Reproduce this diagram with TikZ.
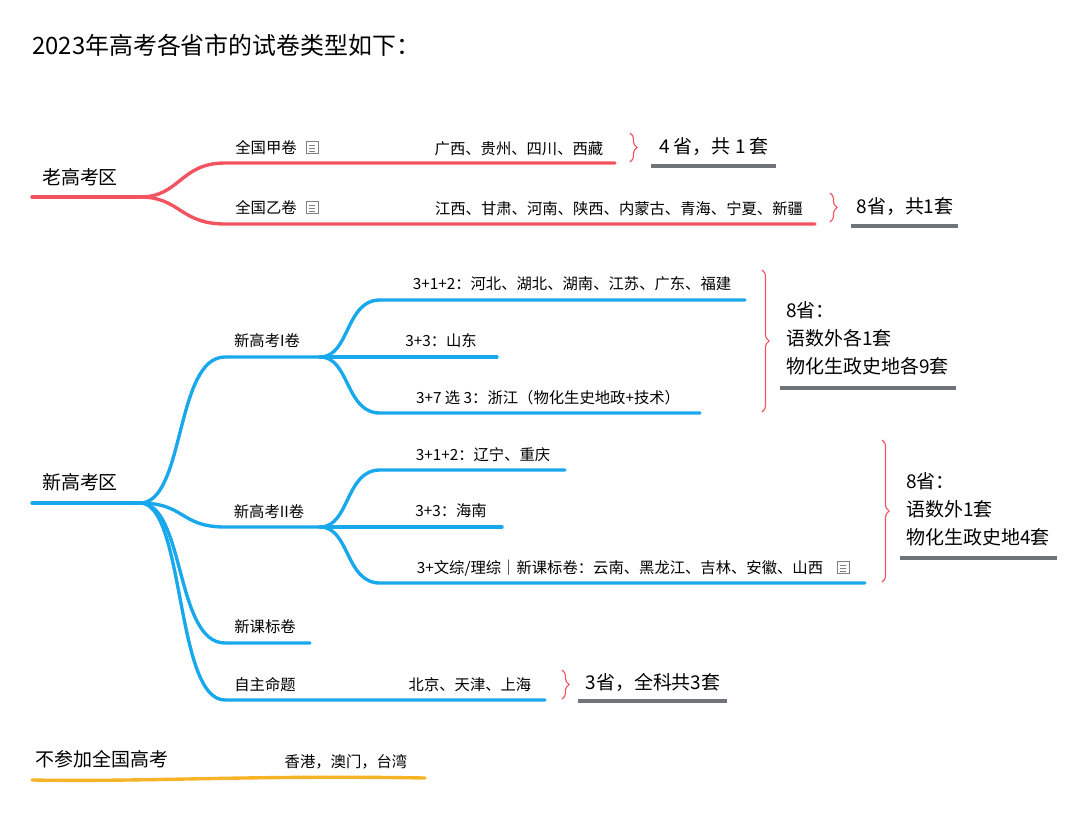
\documentclass[tikz,border=0pt]{standalone}
\usepackage{fontspec}
\setmainfont{Noto Sans CJK SC}
\usetikzlibrary{decorations.pathreplacing}
\definecolor{oldred}{HTML}{F2545F}
\definecolor{newblue}{HTML}{1AA8EC}
\definecolor{otherorange}{HTML}{F5B325}
\definecolor{sumgray}{HTML}{6E7479}
\tikzset{
  small/.style={font=\fontsize{10.9}{12}\selectfont, inner sep=0pt},
  big/.style={font=\fontsize{13.5}{16}\selectfont, inner sep=0pt},
  oldline/.style={oldred, line width=2.4pt, line cap=round},
  newline/.style={newblue, line width=2.4pt, line cap=round},
  sumline/.style={sumgray, line width=2.4pt},
  bracecurl/.style={oldred, thick, decorate, decoration={brace, amplitude=5pt}},
}
\newcommand{\noteicon}[1]{%
  \draw[gray, line width=0.5pt] (#1) ++(-6,-6) rectangle ++(12,12);
  \foreach \dy in {-2,1,4} \draw[gray, line width=0.4pt] (#1) ++(-3,\dy) -- ++(6,0);}
\begin{document}
\begin{tikzpicture}[x=0.025cm, y=-0.025cm]
\useasboundingbox (0,0) rectangle (1085,814);

\node (title) at (32,45) [anchor=west, inner sep=0pt, font=\fontsize{17}{19}\selectfont] {2023年高考各省市的试卷类型如下：};

% old region
\coordinate (oldroot) at (140,197);
\draw[oldline] (32,197) -- (oldroot);
\node (old) at (80,177) [big] {老高考区};
\draw[oldline] (oldroot) .. controls (180,197) and (180,163) .. (225,163) -- (615,163);
\draw[oldline] (oldroot) .. controls (180,197) and (180,224) .. (225,224) -- (815,224);
\node (jia) at (266,148) [small] {全国甲卷};
\noteicon{312,147}
\node (jialist) at (519,149) [small] {广西、贵州、四川、西藏};
\node (yi) at (266,208) [small] {全国乙卷};
\noteicon{312,207}
\node (yilist) at (619,209) [small] {江西、甘肃、河南、陕西、内蒙古、青海、宁夏、新疆};
\draw[bracecurl] (630,133) -- (630,162);
\node (jiasum) at (714,147) [big] {4 省，共 1 套};
\draw[sumline] (651,166) -- (776,166);
\draw[bracecurl] (830,193) -- (830,222);
\node (yisum) at (905,207) [big] {8省，共1套};
\draw[sumline] (851,226) -- (958,226);

% new region
\coordinate (newroot) at (140,503);
\draw[newline] (32,503) -- (newroot);
\node (new) at (80,482) [big] {新高考区};
\coordinate (one) at (320,357);
\coordinate (two) at (320,527);
\draw[newline] (newroot) .. controls (185,503) and (175,357) .. (225,357) -- (one);
\draw[newline] (newroot) .. controls (185,503) and (180,527) .. (225,527) -- (two);
\draw[newline] (newroot) .. controls (185,503) and (175,643) .. (225,643) -- (310,643);
\draw[newline] (newroot) .. controls (185,503) and (175,700) .. (225,700) -- (545,700);
\node (onelab) at (267,341) [small] {新高考I卷};
\node (twolab) at (269,512) [small] {新高考II卷};
\node (kebiao) at (265,627) [small] {新课标卷};
\node (zizhu) at (265,685) [small] {自主命题};
\node (zizhulist) at (470,685) [small] {北京、天津、上海};

\draw[newline] (one) .. controls (350,357) and (345,300) .. (380,300) -- (745,300);
\draw[newline] (one) -- (497,357);
\draw[newline] (one) .. controls (350,357) and (345,413) .. (380,413) -- (700,413);
\node (heb) at (572,284) [small] {3+1+2：河北、湖北、湖南、江苏、广东、福建};
\node (sd) at (441,341) [small] {3+3：山东};
\node (zj) at (548,398) [small] {3+7 选 3：浙江（物化生史地政+技术）};

\draw[newline] (two) .. controls (350,527) and (345,470) .. (380,470) -- (565,470);
\draw[newline] (two) -- (502,527);
\draw[newline] (two) .. controls (350,527) and (345,583) .. (380,583) -- (865,583);
\node (ln) at (483,455) [small] {3+1+2：辽宁、重庆};
\node (hn) at (451,511) [small] {3+3：海南};
\node (yn) at (620,568) [small] {3+文综/理综｜新课标卷：云南、黑龙江、吉林、安徽、山西};
\noteicon{843,567}

\draw[bracecurl] (762,270) -- (762,412);
\node (onesum) at (786,338) [big, anchor=west, align=left] {8省：\\[4pt]语数外各1套\\[4pt]物化生政史地各9套};
\draw[sumline] (780,388) -- (956,388);
\draw[bracecurl] (882,440) -- (882,582);
\node (twosum) at (906,509) [big, anchor=west, align=left] {8省：\\[4pt]语数外1套\\[4pt]物化生政史地4套};
\draw[sumline] (900,558) -- (1057,558);
\draw[bracecurl] (562,670) -- (562,699);
\node (zizhusum) at (653,682) [big] {3省，全科共3套};
\draw[sumline] (578,701) -- (727,701);

% outside
\node (none) at (102,759) [big] {不参加全国高考};
\draw[otherorange, line width=2.4pt, line cap=round] (32,780) .. controls (150,782) and (250,775) .. (425,778);
\node (hk) at (346,762) [small] {香港，澳门，台湾};
\end{tikzpicture}
\end{document}
